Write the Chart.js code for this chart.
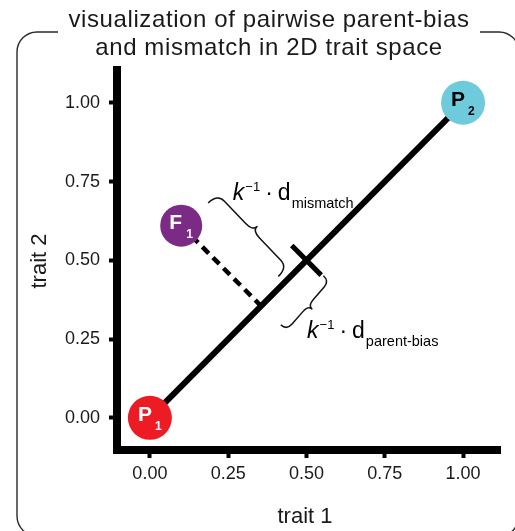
<!DOCTYPE html>
<html>
<head>
<meta charset="utf-8">
<title>parent-bias e mismatch</title>
<script src="https://cdn.jsdelivr.net/npm/chart.js@4.4.1/dist/chart.umd.min.js"></script>
<style>
  html, body { margin: 0; padding: 0; background: #fff; }
  canvas { display: block; }
</style>
</head>
<body>
<canvas id="grafico" width="515" height="531"></canvas>
<script>
let grafico; // variável para poder manipular o gráfico

// textos
const titulo_linhas = ['visualization of pairwise parent-bias', 'and mismatch in 2D trait space'];
const titulo_eixo_x = 'trait 1';
const titulo_eixo_y = 'trait 2';
const ticks_x = [0, 0.25, 0.5, 0.75, 1];
const ticks_y = [0, 0.25, 0.5, 0.75, 1];

// pontos: P1, P2 e F1
const pontos_letra = ['P', 'P', 'F'];
const pontos_sub = ['1', '2', '1'];
const pontos_x = [0, 1, 0.1];
const pontos_y = [0, 1, 0.61];
const pontos_cor = ['#ED1C24', '#6DCBDB', '#7B2B86'];
const pontos_cor_texto = ['#ffffff', '#000000', '#ffffff'];

// linha entre os pais
const diagonal_x = [0, 1];
const diagonal_y = [0, 1];
// F1 até a projeção na diagonal
const tracejado_x = [0.1, 0.355];
const tracejado_y = [0.61, 0.355];
// marca no meio da diagonal
const marca_x = [0.453, 0.547];
const marca_y = [0.547, 0.453];

// chaves (início, fim)
const chave_mismatch_x = [0.186, 0.41];
const chave_mismatch_y = [0.682, 0.449];
const chave_parent_x = [0.554, 0.418];
const chave_parent_y = [0.451, 0.295];

// rótulos das chaves
const rotulos_sub = ['mismatch', 'parent-bias'];
const rotulos_x = [0.265, 0.502];
const rotulos_y = [0.692, 0.254];

const fonte = '"Liberation Sans", Arial, Helvetica, sans-serif';
const cor_texto = '#1a1a1a';

function xy(xs, ys) {
  return xs.map((x, i) => ({ x: x, y: ys[i] }));
}

function pixel(chart, x, y) {
  return [chart.scales.x.getPixelForValue(x), chart.scales.y.getPixelForValue(y)];
}

// desenha uma chave "}" entre a e b, virada para o lado normal
function desenha_chave(ctx, a, b, corpo, bico, gancho) {
  const dx = b[0] - a[0], dy = b[1] - a[1];
  const L = Math.hypot(dx, dy);
  const ux = dx / L, uy = dy / L;
  const nx = uy, ny = -ux;
  const p = (s, t) => [a[0] + ux * s + nx * t, a[1] + uy * s + ny * t];
  const m = L / 2;
  let q;
  ctx.beginPath();
  q = p(0, 0); ctx.moveTo(q[0], q[1]);
  let c = p(0, corpo); q = p(gancho, corpo); ctx.quadraticCurveTo(c[0], c[1], q[0], q[1]);
  q = p(m - gancho, corpo); ctx.lineTo(q[0], q[1]);
  c = p(m, corpo); q = p(m, bico); ctx.quadraticCurveTo(c[0], c[1], q[0], q[1]);
  c = p(m, corpo); q = p(m + gancho, corpo); ctx.quadraticCurveTo(c[0], c[1], q[0], q[1]);
  q = p(L - gancho, corpo); ctx.lineTo(q[0], q[1]);
  c = p(L, corpo); q = p(L, 0); ctx.quadraticCurveTo(c[0], c[1], q[0], q[1]);
  ctx.stroke();
}

// k^-1 · d_sub
function desenha_rotulo(ctx, x, y, sub) {
  ctx.fillStyle = '#000';
  ctx.textBaseline = 'alphabetic';
  ctx.textAlign = 'left';
  ctx.font = 'italic 23px ' + fonte;
  ctx.fillText('k', x, y);
  x += ctx.measureText('k').width + 1;
  ctx.font = '13px ' + fonte;
  ctx.fillText('\u22121', x, y - 9);
  x += ctx.measureText('\u22121').width + 5;
  ctx.font = '23px ' + fonte;
  ctx.fillText('\u00b7', x, y);
  x += ctx.measureText('\u00b7').width + 5;
  ctx.fillText('d', x, y);
  x += ctx.measureText('d').width + 1;
  ctx.font = '14.5px ' + fonte;
  ctx.fillText(sub, x, y + 8);
}

const plugin_moldura = {
  id: 'moldura',
  beforeDraw(chart) {
    const ctx = chart.ctx;
    ctx.save();
    ctx.fillStyle = '#fff';
    ctx.fillRect(0, 0, chart.width, chart.height);
    // moldura arredondada com o título por cima
    const l = 17, t = 32, r = 519, b = 536, raio = 20;
    ctx.strokeStyle = '#2a2a2a';
    ctx.lineWidth = 1.4;
    ctx.beginPath();
    ctx.moveTo(58, t);
    ctx.arcTo(l, t, l, b, raio);
    ctx.arcTo(l, b, r, b, raio);
    ctx.arcTo(r, b, r, t, raio);
    ctx.arcTo(r, t, l, t, raio);
    ctx.lineTo(480, t);
    ctx.stroke();
    ctx.fillStyle = cor_texto;
    ctx.font = '24px ' + fonte;
    ctx.letterSpacing = '0.6px';
    ctx.textAlign = 'center';
    ctx.textBaseline = 'alphabetic';
    ctx.fillText(titulo_linhas[0], 269, 27);
    ctx.fillText(titulo_linhas[1], 269, 55);
    ctx.letterSpacing = '0px';
    // títulos dos eixos
    ctx.font = '22px ' + fonte;
    ctx.textBaseline = 'middle';
    ctx.fillText(titulo_eixo_x, 305, 517);
    ctx.translate(40, 261);
    ctx.rotate(-Math.PI / 2);
    ctx.fillText(titulo_eixo_y, 0, 0);
    ctx.restore();
  },
  afterDatasetsDraw(chart) {
    const ctx = chart.ctx;
    ctx.save();
    // chaves
    ctx.strokeStyle = '#111';
    ctx.lineWidth = 1.5;
    ctx.lineJoin = 'round';
    desenha_chave(ctx, pixel(chart, chave_mismatch_x[0], chave_mismatch_y[0]),
      pixel(chart, chave_mismatch_x[1], chave_mismatch_y[1]), 13, 19, 10);
    desenha_chave(ctx, pixel(chart, chave_parent_x[0], chave_parent_y[0]),
      pixel(chart, chave_parent_x[1], chave_parent_y[1]), 8, 13, 8);
    // rótulos
    for (let i = 0; i < rotulos_sub.length; i++) {
      const p = pixel(chart, rotulos_x[i], rotulos_y[i]);
      desenha_rotulo(ctx, p[0], p[1], rotulos_sub[i]);
    }
    // letras dentro dos pontos
    const meta = chart.getDatasetMeta(3);
    meta.data.forEach((el, i) => {
      ctx.fillStyle = pontos_cor_texto[i];
      ctx.textAlign = 'left';
      ctx.textBaseline = 'alphabetic';
      ctx.font = 'bold 21px ' + fonte;
      ctx.fillText(pontos_letra[i], el.x - 12, el.y + 3);
      ctx.font = 'bold 12px ' + fonte;
      ctx.fillText(pontos_sub[i], el.x + 5, el.y + 12);
    });
    ctx.restore();
  }
};

const eixo_comum = {
  type: 'linear',
  grid: {
    display: true,
    drawOnChartArea: false,
    drawTicks: true,
    tickLength: 8,
    tickWidth: 4,
    tickColor: '#000',
    color: '#000'
  },
  border: { display: true, width: 8, color: '#000' }
};

document.addEventListener('DOMContentLoaded', function () {
  let ctx = document.getElementById('grafico').getContext('2d');
  grafico = new Chart(ctx, {
    type: 'scatter',
    data: {
      datasets: [{
        label: 'diagonal',
        data: xy(diagonal_x, diagonal_y),
        showLine: true,
        borderColor: '#000',
        borderWidth: 6,
        pointRadius: 0,
        order: 3
      },
      {
        label: 'tracejado',
        data: xy(tracejado_x, tracejado_y),
        showLine: true,
        borderColor: '#000',
        borderWidth: 4.5,
        borderDash: [9, 6],
        pointRadius: 0,
        order: 3
      },
      {
        label: 'marca',
        data: xy(marca_x, marca_y),
        showLine: true,
        borderColor: '#000',
        borderWidth: 5,
        pointRadius: 0,
        order: 3
      },
      {
        label: 'pontos',
        data: xy(pontos_x, pontos_y),
        showLine: false,
        pointRadius: [22, 22, 21],
        pointBackgroundColor: pontos_cor,
        pointBorderWidth: 0,
        order: 1
      }]
    },
    options: {
      responsive: false,
      animation: false,
      devicePixelRatio: 1,
      clip: false,
      // sem autoPadding, senão o raio dos pontos empurra a borda direita
      layout: { autoPadding: false, padding: { left: 0, right: 15, top: 70, bottom: 0 } },
      plugins: {
        legend: { display: false },
        tooltip: { enabled: false }
      },
      events: [],
      scales: {
        x: Object.assign({}, eixo_comum, {
          min: -0.105,
          max: 1.118,
          afterBuildTicks: (s) => { s.ticks = ticks_x.map(v => ({ value: v })); },
          afterFit: (s) => { s.height = 81; },
          ticks: {
            padding: 5,
            color: cor_texto,
            font: { family: fonte, size: 18 },
            callback: (v) => Number(v).toFixed(2)
          }
        }),
        y: Object.assign({}, eixo_comum, {
          min: -0.102,
          max: 1.104,
          afterBuildTicks: (s) => { s.ticks = ticks_y.map(v => ({ value: v })); },
          afterFit: (s) => { s.width = 117; },
          ticks: {
            padding: 9,
            color: cor_texto,
            font: { family: fonte, size: 18 },
            callback: (v) => Number(v).toFixed(2)
          }
        })
      }
    },
    plugins: [plugin_moldura]
  });
});
</script>
</body>
</html>
